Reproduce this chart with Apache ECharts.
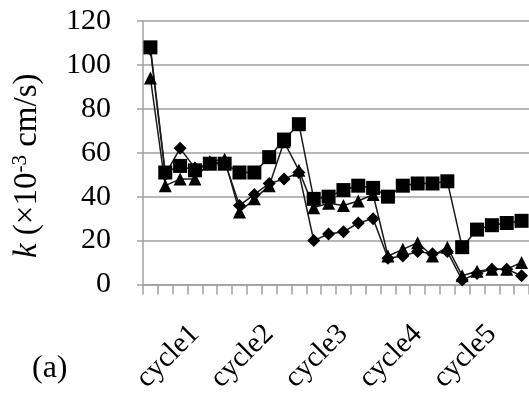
<!DOCTYPE html>
<html>
<head>
<meta charset="utf-8">
<script src="https://cdn.jsdelivr.net/npm/echarts@6/dist/echarts.min.js"></script>
<style>
  html, body { margin: 0; padding: 0; background: #fff; }
  #chart { width: 529px; height: 398px; }
</style>
</head>
<body>
<div id="chart"></div>
<script>
// Measurement index: an initial reading followed by five readings per cycle.
const categories = [
  'c0',
  'c1-1', 'c1-2', 'c1-3', 'c1-4', 'c1-5',
  'c2-1', 'c2-2', 'c2-3', 'c2-4', 'c2-5',
  'c3-1', 'c3-2', 'c3-3', 'c3-4', 'c3-5',
  'c4-1', 'c4-2', 'c4-3', 'c4-4', 'c4-5',
  'c5-1', 'c5-2', 'c5-3', 'c5-4', 'c5-5'
];
const cycleLabels = ['cycle1', 'cycle2', 'cycle3', 'cycle4', 'cycle5'];

// Permeability k (x10^-3 cm/s)
const squareSeries  = [108, 51, 54, 52, 55, 55, 51, 51, 58, 66, 73, 39, 40, 43, 45, 44, 40, 45, 46, 46, 47, 17, 25, 27, 28, 29];
const triangleSeries = [94, 45, 48, 48, 56, 57, 33, 39, 45, 65, 52, 35, 37, 36, 38, 41, 13, 16, 19, 13, 17, 4, 6, 7, 7, 10];
const diamondSeries  = [107, 50, 62, 53, 55, 56, 36, 41, 46, 48, 51, 20, 23, 24, 28, 30, 12, 13, 15, 14, 15, 2, 5, 7, 7, 4];

const yTicks = { min: 0, max: 120, interval: 20 };

const serif = '"Liberation Serif", "Times New Roman", serif';
const lineStyle = { color: '#1a1a1a', width: 1.5 };

function makeSeries(name, data, symbol, size) {
  return {
    name: name,
    type: 'line',
    data: data,
    symbol: symbol,
    symbolSize: size,
    itemStyle: { color: '#000' },
    lineStyle: lineStyle,
    animation: false
  };
}

const chart = echarts.init(document.getElementById('chart'));
chart.setOption({
  backgroundColor: '#fff',
  animation: false,
  grid: { left: 143, right: 0, top: 21, bottom: 113.5, containLabel: false },
  xAxis: {
    type: 'category',
    data: categories,
    boundaryGap: true,
    axisLine: { lineStyle: { color: '#a0a0a0', width: 1.5 } },
    axisTick: { show: true, interval: 0, length: 10, lineStyle: { color: '#a0a0a0', width: 1.5 } },
    axisLabel: {
      interval: 0,
      rotate: 45,
      margin: 45,
      fontFamily: serif,
      fontSize: 29,
      color: '#000',
      formatter: function (value, index) {
        return index % 5 === 3 ? cycleLabels[(index - 3) / 5] : '';
      }
    },
    splitLine: { show: false }
  },
  yAxis: {
    type: 'value',
    min: yTicks.min,
    max: yTicks.max,
    interval: yTicks.interval,
    axisLine: { show: true, lineStyle: { color: '#a0a0a0', width: 1.5 } },
    axisTick: { show: true, length: 6, lineStyle: { color: '#a0a0a0', width: 1.5 } },
    axisLabel: { margin: 32, fontFamily: serif, fontSize: 30, color: '#000' },
    splitLine: { show: true, lineStyle: { color: '#a0a0a0', width: 1.5 } },
    name: '{i|k} (×10{sup|-3} cm/s)',
    nameLocation: 'middle',
    nameGap: 98,
    nameRotate: 90,
    nameTextStyle: {
      fontFamily: serif,
      fontSize: 33,
      color: '#000',
      padding: [0, 26, 0, 0],
      rich: {
        i: { fontFamily: serif, fontSize: 33, fontStyle: 'italic', color: '#000' },
        sup: { fontFamily: serif, fontSize: 21, color: '#000', verticalAlign: 'top', padding: [0, 0, 14, 0] }
      }
    }
  },
  graphic: [{
    type: 'text',
    left: 32,
    top: 353,
    style: { text: '(a)', font: '32px ' + serif, fill: '#000' }
  }],
  series: [
    makeSeries('diamond', diamondSeries, 'diamond', 13),
    makeSeries('triangle', triangleSeries, 'triangle', 13),
    makeSeries('square', squareSeries, 'rect', 14)
  ]
});
</script>
</body>
</html>
